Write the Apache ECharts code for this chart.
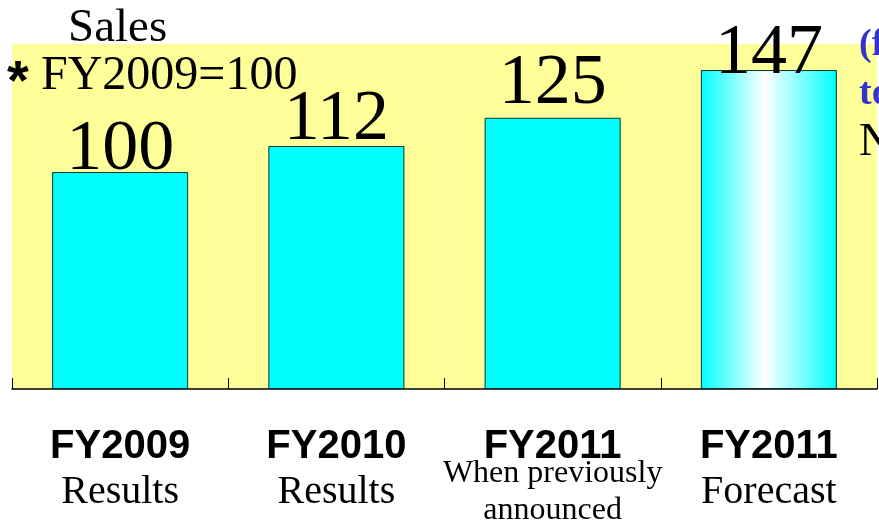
<!DOCTYPE html>
<html>
<head>
<meta charset="utf-8">
<script src="https://cdn.jsdelivr.net/npm/echarts@6/dist/echarts.min.js"></script>
<style>
  html, body { margin: 0; padding: 0; background: #ffffff; }
  #chart { width: 879px; height: 521px; }
</style>
</head>
<body>
<div id="chart"></div>
<script>
// Sales index (FY2009 = 100)
const periods = ['FY2009', 'FY2010', 'FY2011', 'FY2011'];
const periodNotes = [['Results'], ['Results'], ['When previously', 'announced'], ['Forecast']];
const salesIndex = [100, 112, 125, 147];

const serif = '"Liberation Serif", "DejaVu Serif", serif';
const sans = '"Liberation Sans", Arial, sans-serif';

// value label placement relative to each bar top
const labelDistance = [-14, -10, -2, -20];

const flatFill = '#00ffff';
const forecastFill = {
  type: 'linear', x: 0, y: 0, x2: 1, y2: 0,
  colorStops: [
    { offset: 0, color: '#00ffff' },
    { offset: 0.47, color: '#ffffff' },
    { offset: 1, color: '#00ffff' }
  ]
};

const chart = echarts.init(document.getElementById('chart'), null, { renderer: 'canvas' });

chart.setOption({
  animation: false,
  backgroundColor: '#ffffff',
  grid: {
    left: 12, right: 2, top: 44, bottom: 132,
    containLabel: false,
    outerBoundsMode: 'none',
    show: true, backgroundColor: '#ffff99', borderWidth: 0
  },
  xAxis: {
    type: 'category',
    data: periods.map((p, i) => i),
    axisLine: { show: true, lineStyle: { color: '#000', width: 1.5 } },
    axisTick: { show: true, inside: true, length: 11, lineStyle: { color: '#000', width: 1 } },
    axisLabel: {
      interval: 0,
      margin: 41,
      formatter: (v) => {
        const i = Number(v);
        const notes = periodNotes[i];
        if (notes.length > 1) {
          return '{a|' + periods[i] + '}\n{c1|' + notes[0] + '}\n{c2|' + notes[1] + '}';
        }
        return '{a|' + periods[i] + '}\n{b|' + notes[0] + '}';
      },
      rich: {
        a: { fontFamily: sans, fontWeight: 'bold', fontSize: 40, color: '#000', lineHeight: 34 },
        b: { fontFamily: serif, fontSize: 40, color: '#000', lineHeight: 56 },
        c1: { fontFamily: serif, fontSize: 32, color: '#000', lineHeight: 20 },
        c2: { fontFamily: serif, fontSize: 32, color: '#000', lineHeight: 54 }
      }
    }
  },
  yAxis: {
    type: 'value', min: 0, max: 159, show: false,
    splitLine: { show: false }
  },
  series: [{
    type: 'bar',
    barWidth: 136,
    data: salesIndex.map((v, i) => ({
      value: v,
      itemStyle: { color: i === salesIndex.length - 1 ? forecastFill : flatFill },
      label: { distance: labelDistance[i] }
    })),
    itemStyle: { borderColor: '#003333', borderWidth: 1 },
    label: {
      show: true,
      position: 'top',
      fontFamily: serif,
      fontSize: 72,
      color: '#000'
    }
  }],
  graphic: [
    { type: 'text', left: 68, top: 5, style: { text: 'Sales', font: '47px ' + serif, fill: '#000' } },
    { type: 'text', left: 7, top: 56, style: { text: '*', font: 'bold 56px ' + sans, fill: '#000' } },
    { type: 'text', left: 41, top: 52, style: { text: 'FY2009=100', font: '48px ' + serif, fill: '#000' } },
    { type: 'text', left: 859, top: 26, style: { text: '(f', font: 'bold 38px ' + serif, fill: '#3333cc' } },
    { type: 'text', left: 859, top: 75, style: { text: 'to', font: 'bold 38px ' + serif, fill: '#3333cc' } },
    { type: 'text', left: 859, top: 120, style: { text: 'N', font: '46px ' + serif, fill: '#000' } }
  ]
});
</script>
</body>
</html>
